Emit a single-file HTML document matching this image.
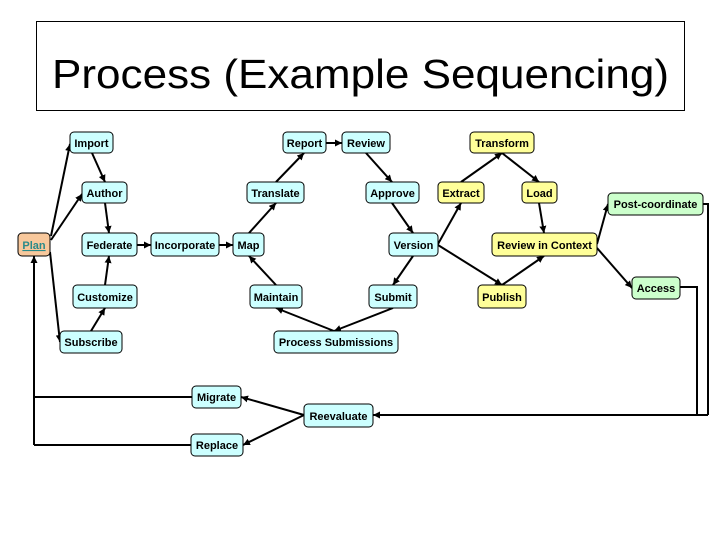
<!DOCTYPE html>
<html><head><meta charset="utf-8"><style>
html,body{margin:0;padding:0;background:#fff;}
svg{display:block;}
text{font-family:"Liberation Sans",Arial,sans-serif;}
.n text{font-size:11px;font-weight:bold;text-anchor:middle;}
</style></head><body>
<svg width="720" height="540" viewBox="0 0 720 540" xmlns="http://www.w3.org/2000/svg">
<defs>
<marker id="a" viewBox="0 0 10 10" refX="10" refY="5" markerWidth="7" markerHeight="7" markerUnits="userSpaceOnUse" orient="auto">
<path d="M0,0 L10,5 L0,10 z" fill="#000"/>
</marker>
</defs>
<rect x="36.5" y="21.5" width="648" height="89" fill="#fff" stroke="#000" stroke-width="1"/>
<text x="52" y="88" font-size="41" textLength="617" lengthAdjust="spacingAndGlyphs">Process (Example Sequencing)</text>

<g stroke="#000" stroke-width="2" fill="none" marker-end="url(#a)">
<line x1="51" y1="236" x2="70" y2="144"/>
<line x1="51" y1="240" x2="82" y2="194"/>
<line x1="50" y1="252" x2="60" y2="342"/>
<line x1="92" y1="153" x2="105" y2="182"/>
<line x1="105" y1="203" x2="109" y2="233"/>
<line x1="105" y1="285" x2="109" y2="256"/>
<line x1="91" y1="331" x2="105" y2="308"/>
<line x1="137" y1="245" x2="151" y2="245"/>
<line x1="219" y1="245" x2="233" y2="245"/>
<line x1="249" y1="233" x2="276" y2="203"/>
<line x1="276" y1="182" x2="304" y2="153"/>
<line x1="326" y1="143" x2="342" y2="143"/>
<line x1="366" y1="153" x2="392" y2="182"/>
<line x1="392" y1="203" x2="413" y2="233"/>
<line x1="438" y1="244" x2="461" y2="203"/>
<line x1="461" y1="182" x2="502" y2="153"/>
<line x1="502" y1="153" x2="539" y2="182"/>
<line x1="539" y1="203" x2="544" y2="233"/>
<line x1="438" y1="245" x2="502" y2="285"/>
<line x1="502" y1="285" x2="544" y2="256"/>
<line x1="597" y1="244" x2="608" y2="204"/>
<line x1="597" y1="248" x2="632" y2="288"/>
<line x1="413" y1="256" x2="393" y2="285"/>
<line x1="393" y1="308" x2="334" y2="331"/>
<line x1="334" y1="331" x2="276" y2="308"/>
<line x1="276" y1="285" x2="249" y2="256"/>
<line x1="304" y1="415" x2="241" y2="397"/>
<line x1="304" y1="415" x2="243" y2="445"/>
<polyline points="708,415 373,415"/>
<polyline points="34,445 34,256"/>
</g>
<g stroke="#000" stroke-width="2" fill="none">
<polyline points="703,204 708,204 708,415"/>
<polyline points="680,287 697,287 697,415"/>
<polyline points="192,397 34,397"/>
<polyline points="191,445 34,445"/>
</g>

<g class="n" stroke="#000" stroke-width="1">
<g fill="#ccffff">
<rect x="70" y="132" width="43" height="21" rx="4"/>
<rect x="82" y="182" width="45" height="21" rx="4"/>
<rect x="82" y="233" width="55" height="23" rx="4"/>
<rect x="151" y="233" width="68" height="23" rx="4"/>
<rect x="233" y="233" width="31" height="23" rx="4"/>
<rect x="73" y="285" width="64" height="23" rx="4"/>
<rect x="60" y="331" width="62" height="22" rx="4"/>
<rect x="283" y="132" width="43" height="21" rx="4"/>
<rect x="247" y="182" width="57" height="21" rx="4"/>
<rect x="250" y="285" width="52" height="23" rx="4"/>
<rect x="274" y="331" width="124" height="22" rx="4"/>
<rect x="342" y="132" width="48" height="21" rx="4"/>
<rect x="366" y="182" width="53" height="21" rx="4"/>
<rect x="389" y="233" width="49" height="23" rx="4"/>
<rect x="369" y="285" width="48" height="23" rx="4"/>
<rect x="192" y="386" width="49" height="22" rx="4"/>
<rect x="304" y="404" width="69" height="23" rx="4"/>
<rect x="191" y="434" width="52" height="22" rx="4"/>
</g>
<rect x="18" y="233" width="32" height="23" rx="4" fill="#f8c89c"/>
<g fill="#ffff99">
<rect x="470" y="132" width="64" height="21" rx="4"/>
<rect x="438" y="182" width="46" height="21" rx="4"/>
<rect x="522" y="182" width="35" height="21" rx="4"/>
<rect x="492" y="233" width="105" height="23" rx="4"/>
<rect x="478" y="285" width="48" height="23" rx="4"/>
</g>
<g fill="#ccffcc">
<rect x="608" y="193" width="95" height="22" rx="4"/>
<rect x="632" y="277" width="48" height="22" rx="4"/>
</g>
</g>
<g class="n" fill="#000">
<text x="91.5" y="147">Import</text>
<text x="104.5" y="197">Author</text>
<text x="109.5" y="249">Federate</text>
<text x="185" y="249">Incorporate</text>
<text x="248.5" y="249">Map</text>
<text x="105" y="301">Customize</text>
<text x="91" y="346">Subscribe</text>
<text x="304.5" y="147">Report</text>
<text x="275.5" y="197">Translate</text>
<text x="276" y="301">Maintain</text>
<text x="336" y="346">Process Submissions</text>
<text x="366" y="147">Review</text>
<text x="392.5" y="197">Approve</text>
<text x="413.5" y="249">Version</text>
<text x="393" y="301">Submit</text>
<text x="216.5" y="401">Migrate</text>
<text x="338.5" y="420">Reevaluate</text>
<text x="217" y="449">Replace</text>
<text x="502" y="147">Transform</text>
<text x="461" y="197">Extract</text>
<text x="539.5" y="197">Load</text>
<text x="544.5" y="249">Review in Context</text>
<text x="502" y="301">Publish</text>
<text x="655.5" y="208">Post-coordinate</text>
<text x="656" y="292">Access</text>
<text x="34" y="249" fill="#2a8a8a" font-weight="normal" text-decoration="underline">Plan</text>
</g>
</svg>
</body></html>
